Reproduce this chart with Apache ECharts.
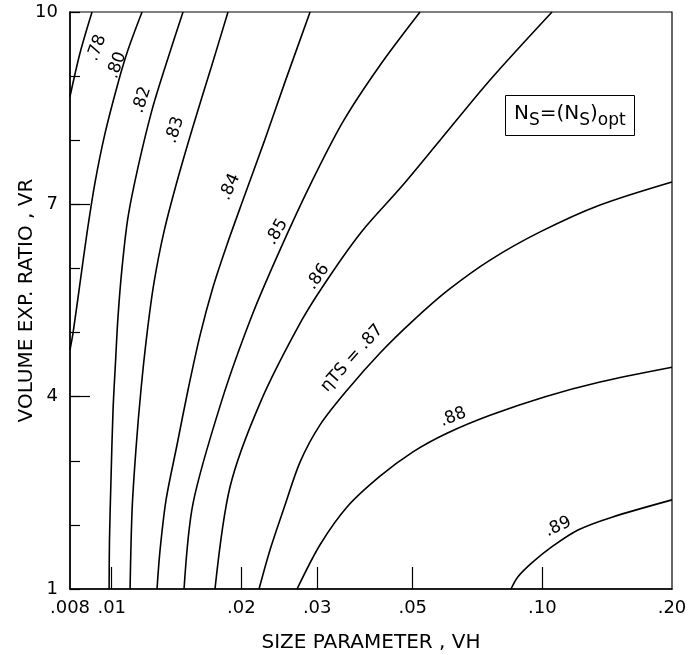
<!DOCTYPE html>
<html>
<head>
<meta charset="utf-8">
<script src="https://cdn.jsdelivr.net/npm/echarts@6/dist/echarts.min.js"></script>
<style>
html, body { margin: 0; padding: 0; background: #fff; }
#chart { width: 695px; height: 655px; }
</style>
</head>
<body>
<div id="chart"></div>
<script>
// x axis ticks (size parameter VH, log scale)
var tickVH = [0.008, 0.01, 0.02, 0.03, 0.05, 0.10, 0.20];
var tickTxt = ['.008', '.01', '.02', '.03', '.05', '.10', '.20'];
// y axis labelled ticks (volume exp. ratio VR)
var vrLabels = [1, 4, 7, 10];

// contour lines, points are [VH, VR]
var c78 = [[0.0080, 8.68], [0.00844, 9.36], [0.0090, 10]];
var c80 = [[0.01176, 10], [0.01091, 9.41], [0.01034, 8.89], [0.00965, 8.11], [0.00914, 7.33],
	[0.00876, 6.55], [0.00844, 5.77], [0.00813, 4.99], [0.0080, 4.73]];
var c82 = [[0.01464, 10], [0.01330, 9.14], [0.01240, 8.47], [0.01151, 7.58], [0.01091, 6.80],
	[0.01057, 6.02], [0.01034, 5.24], [0.01021, 4.57], [0.01007, 3.79], [0.00996, 2.70],
	[0.00988, 1.76], [0.00986, 1]];
var c83 = [[0.01862, 10], [0.01701, 9.13], [0.01553, 8.27], [0.01425, 7.41], [0.01322, 6.57],
	[0.01253, 5.77], [0.01208, 4.99], [0.01169, 4.10], [0.01138, 3.17], [0.01115, 2.23], [0.01103, 1]];
var c84 = [[0.02888, 10], [0.02526, 8.91], [0.02257, 7.97], [0.02018, 7.07], [0.01852, 6.37],
	[0.01719, 5.71], [0.01604, 4.96], [0.01503, 4.10], [0.01418, 3.25], [0.01337, 2.39],
	[0.01295, 1.61], [0.01274, 1]];
var c85 = [[0.05199, 10], [0.04198, 9.17], [0.03444, 8.29], [0.02888, 7.30], [0.02459, 6.29],
	[0.02118, 5.27], [0.01803, 3.95], [0.01545, 2.34], [0.01472, 1]];
var c86 = [[0.1053, 10], [0.0756, 8.94], [0.05786, 8.00], [0.04700, 7.27], [0.03832, 6.60],
	[0.03244, 5.93], [0.02767, 5.20], [0.02210, 3.90], [0.01882, 2.59], [0.01737, 1]];
var c87 = [[0.20, 7.35], [0.1361, 6.99], [0.0988, 6.57], [0.0756, 6.13], [0.06039, 5.66],
	[0.04981, 5.17], [0.04198, 4.68], [0.03519, 4.10], [0.03046, 3.56], [0.02737, 2.98],
	[0.02526, 2.31], [0.02331, 1.61], [0.02198, 1]];
var c88 = [[0.20, 4.46], [0.1361, 4.23], [0.1015, 4.00], [0.0756, 3.71], [0.06006, 3.43],
	[0.05007, 3.14], [0.04198, 2.76], [0.03519, 2.28], [0.03046, 1.69], [0.02694, 1]];
var c89 = [[0.20, 2.39], [0.1451, 2.12], [0.1210, 1.92], [0.1053, 1.66], [0.09465, 1.41],
	[0.08777, 1.19], [0.08456, 1]];

var contours = [c78, c80, c82, c83, c84, c85, c86, c87, c88, c89];
var levels = ['.78', '.80', '.82', '.83', '.84', '.85', '.86', 'ηTS = .87', '.88', '.89'];
// where each level text sits, [VH, VR]
var labelAt = [[0.00924, 9.44], [0.01028, 9.17], [0.01176, 8.63], [0.01403, 8.16], [0.01882, 7.27],
	[0.02420, 6.57], [0.03013, 5.87], [0.03614, 4.60], [0.06203, 3.68], [0.10878, 1.97]];
var labelRot = [70, 70, 72, 72, 66, 60, 55, 48, 22, 25];

var lg = function(v) { return Math.log10(v); };
var FONT = 'DejaVu Sans';

function tickLabel(v) {
	for (var i = 0; i < tickVH.length; i++) {
		if (Math.abs(lg(tickVH[i]) - v) < 1e-6) return tickTxt[i];
	}
	return '';
}

var myChart = echarts.init(document.getElementById('chart'));

var series = [];
for (var i = 0; i < contours.length; i++) {
	series.push({
		type : 'line',
		name : levels[i],
		data : contours[i].map(function(p) { return [lg(p[0]), p[1]]; }),
		smooth : 0.3,
		symbol : 'none',
		silent : true,
		lineStyle : { color : '#000', width : 1.6 }
	});
}
series.push({
	type : 'scatter',
	symbolSize : 0,
	silent : true,
	itemStyle : { opacity : 1 },
	label : { show : true, position : 'inside', color : '#000', opacity : 1, fontSize : 17, fontFamily : FONT },
	data : labelAt.map(function(p, i) {
		return { value : [lg(p[0]), p[1]], label : { rotate : labelRot[i], formatter : levels[i] } };
	})
});

var option = {
	animation : false,
	backgroundColor : '#fff',
	title : {
		left : 505,
		top : 95,
		padding : [9, 9, 6, 9],
		borderColor : '#000',
		borderWidth : 1,
		text : '{n|N}{s|S}{n|=(N}{s|S}{n|)}{s|opt}',
		textStyle : {
			fontWeight : 'normal',
			rich : {
				n : { fontSize : 20, fontWeight : 'normal', fontFamily : FONT, color : '#000', padding : [0, 0, 6, 0] },
				s : { fontSize : 17, fontWeight : 'normal', fontFamily : FONT, color : '#000', padding : [8, 0, 0, 0] }
			}
		}
	},
	grid : { left : 70, right : 23, top : 12, bottom : 66, show : true, borderColor : '#000', borderWidth : 1.2, outerBoundsMode : 'none' },
	xAxis : {
		type : 'value',
		min : lg(0.008),
		max : lg(0.2),
		name : 'SIZE PARAMETER , VH',
		nameLocation : 'middle',
		nameGap : 44,
		nameTextStyle : { fontSize : 20, fontFamily : FONT, color : '#000' },
		axisLine : { lineStyle : { color : '#000', width : 1.5 } },
		axisTick : {
			inside : true, length : 22,
			customValues : tickVH.slice(1, 6).map(lg),
			lineStyle : { color : '#000', width : 1.2 }
		},
		axisLabel : {
			customValues : tickVH.map(lg),
			formatter : tickLabel,
			fontSize : 18, fontFamily : FONT, color : '#000', margin : 10
		},
		splitLine : { show : false }
	},
	yAxis : [ {
		type : 'value',
		min : 1,
		max : 10,
		interval : 1,
		position : 'left',
		name : 'VOLUME EXP. RATIO , VR',
		nameLocation : 'middle',
		nameGap : 33,
		nameMoveOverlap : false,
		nameTextStyle : { fontSize : 20, fontFamily : FONT, color : '#000' },
		axisLine : { lineStyle : { color : '#000', width : 1.5 } },
		axisTick : { inside : true, length : 10, lineStyle : { color : '#000', width : 1.2 } },
		axisLabel : {
			customValues : vrLabels,
			fontSize : 18, fontFamily : FONT, color : '#000', margin : 12
		},
		splitLine : { show : false }
	}, {
		// longer ticks at the labelled values
		type : 'value',
		min : 1,
		max : 10,
		position : 'left',
		offset : 0,
		axisLine : { show : false },
		axisTick : { inside : true, length : 20, customValues : [4, 7], lineStyle : { color : '#000', width : 1.2 } },
		axisLabel : { show : false },
		splitLine : { show : false }
	} ],
	series : series
};
myChart.setOption(option);
</script>
</body>
</html>
